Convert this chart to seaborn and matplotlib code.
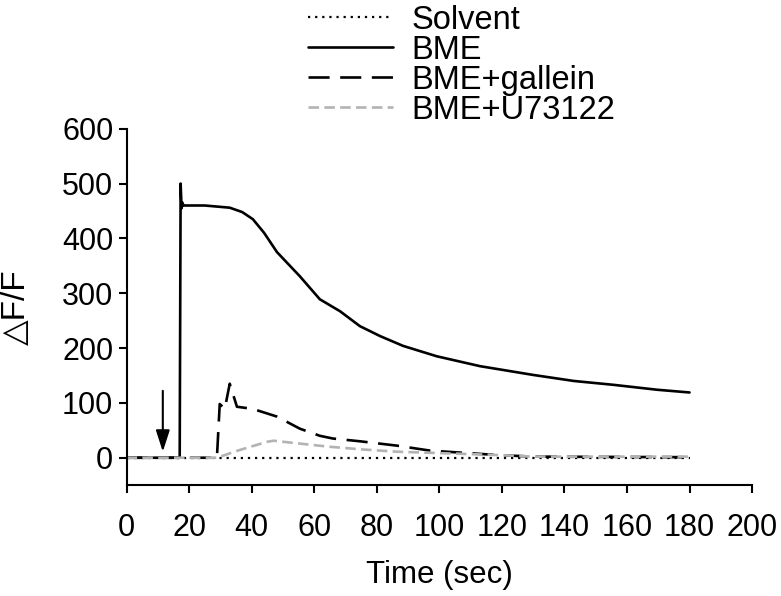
import seaborn as sns
import matplotlib.pyplot as plt

# Series values
solvent_x = [0, 180]
solvent_y = [0, 0]

bme_x = [0, 17.0, 17.3, 17.6, 17.9, 18.2, 25, 33, 37, 40.4, 44, 48.1, 55.4, 61.8,
         68.3, 74.6, 81, 88.4, 99.2, 113, 130, 143, 155.6, 169.6, 180]
bme_y = [0, 0, 500, 455, 465, 460, 460, 456, 448, 435, 410, 375, 331, 289,
         267, 240, 222, 204, 185, 167, 151, 140, 133, 124, 119]

gallein_x = [0, 28.9, 29.8, 31.4, 33.0, 35.3, 40.4, 48.1, 55.4, 61.8, 66, 74.6,
             86.5, 97, 107.6, 118.4, 130, 180]
gallein_y = [0, 0, 98, 89, 135, 93, 89, 75, 53, 40, 35, 30,
             22, 13, 9, 5, 2, 1]

u73_x = [0, 29, 35, 44.9, 47, 55, 65, 75.6, 86.5, 97, 107.6, 118.4, 130, 180]
u73_y = [0, 0, 12, 29, 31, 26, 20, 15, 11, 9, 7, 5, 2, 2]

arrow_x = 11.6
arrow_top, arrow_tip = 122, 11

sns.set_style("ticks")
plt.rcParams['font.family'] = ['Liberation Sans', 'DejaVu Sans']
plt.rcParams['axes.linewidth'] = 1.5
plt.rcParams['text.color'] = 'black'
plt.rcParams['axes.labelcolor'] = 'black'
plt.rcParams['xtick.color'] = 'black'
plt.rcParams['ytick.color'] = 'black'
plt.rcParams['axes.edgecolor'] = 'black'

fig = plt.figure(figsize=(7.81, 5.96), dpi=100)
ax = fig.add_axes([0.162, 0.186, 0.801, 0.598])

sns.lineplot(x=solvent_x, y=solvent_y, ax=ax, color="black", lw=1.6,
             linestyle=(0, (1, 2.2)), estimator=None, sort=False, label="Solvent")
sns.lineplot(x=bme_x, y=bme_y, ax=ax, color="black", lw=1.9,
             estimator=None, sort=False, label="BME")
sns.lineplot(x=gallein_x, y=gallein_y, ax=ax, color="black", lw=1.9,
             linestyle=(0, (8, 4)), estimator=None, sort=False, label="BME+gallein")
sns.lineplot(x=u73_x, y=u73_y, ax=ax, color="#b3b3b3", lw=1.9,
             linestyle=(0, (4, 2)), estimator=None, sort=False, label="BME+U73122")

ax.annotate("", xy=(arrow_x, arrow_tip), xytext=(arrow_x, arrow_top),
            arrowprops=dict(arrowstyle="-|>,head_width=0.42,head_length=1.3",
                            color="black", lw=1.5, shrinkA=0, shrinkB=0))

ax.set_xlim(0, 200)
ax.set_ylim(-50, 600)
ax.set_xticks(range(0, 201, 20))
ax.set_yticks(range(0, 601, 100))
ax.tick_params(labelsize=22, width=1.5, length=6, direction="out")
ax.tick_params(axis="x", pad=14)
ax.set_xlabel("Time (sec)", fontsize=22.5, labelpad=12)
ax.set_ylabel("△F/F", fontsize=24, labelpad=22)
sns.despine(ax=ax)

handles, labels = ax.get_legend_handles_labels()
ax.get_legend().remove()
fig.legend(handles, labels, loc="upper left", bbox_to_anchor=(0.394, 0.992),
           frameon=False, fontsize=23.5, handlelength=2.6, labelspacing=-0.03,
           handletextpad=0.58, borderaxespad=0, borderpad=0)

fig.savefig("out.png", dpi=100)
